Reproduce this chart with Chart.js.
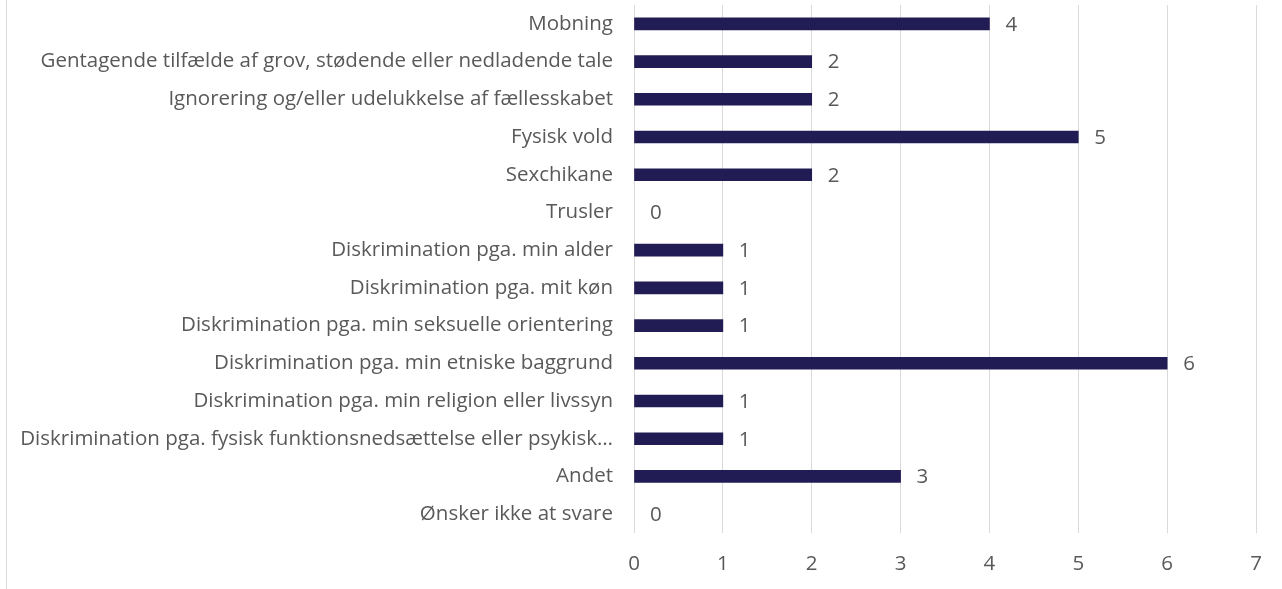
<!DOCTYPE html>
<html>
<head>
<meta charset="utf-8">
<script src="https://cdn.jsdelivr.net/npm/chart.js@4.4.1/dist/chart.umd.min.js"></script>
<style>
  html, body { margin: 0; padding: 0; background: #ffffff; }
  #wrap { position: relative; width: 1282px; height: 589px; }
  #frame { position: absolute; left: 6px; top: 0; width: 0; height: 589px; border-left: 1px solid #d9d9d9; }
  canvas { position: absolute; left: 0; top: 0; }
</style>
</head>
<body>
<div id="wrap">
  <div id="frame"></div>
  <canvas id="c" width="1282" height="589"></canvas>
</div>
<script>
const categories = [
  "Mobning",
  "Gentagende tilfælde af grov, stødende eller nedladende tale",
  "Ignorering og/eller udelukkelse af fællesskabet",
  "Fysisk vold",
  "Sexchikane",
  "Trusler",
  "Diskrimination pga. min alder",
  "Diskrimination pga. mit køn",
  "Diskrimination pga. min seksuelle orientering",
  "Diskrimination pga. min etniske baggrund",
  "Diskrimination pga. min religion eller livssyn",
  "Diskrimination pga. fysisk funktionsnedsættelse eller psykisk…",
  "Andet",
  "Ønsker ikke at svare"
];
const values = [4, 2, 2, 5, 2, 0, 1, 1, 1, 6, 1, 1, 3, 0];
const xTicks = [0, 1, 2, 3, 4, 5, 6, 7];

const FONT = "'Open Sans', 'Liberation Sans', sans-serif";
const TEXT = "#595959";
const FS = 20.5;
const BAR = '#221c55';

const valueLabels = {
  id: 'valueLabels',
  afterDatasetsDraw(chart) {
    const ctx = chart.ctx;
    const meta = chart.getDatasetMeta(0);
    ctx.save();
    ctx.font = FS + "px " + FONT;
    ctx.fillStyle = TEXT;
    ctx.textAlign = 'left';
    ctx.textBaseline = 'middle';
    meta.data.forEach((bar, i) => {
      ctx.fillText(String(values[i]), bar.x + 16, bar.y + 1);
    });
    ctx.restore();
  }
};

new Chart(document.getElementById('c'), {
  type: 'bar',
  data: {
    labels: categories,
    datasets: [{
      data: values,
      backgroundColor: (c) => (c.raw === 0 ? 'rgba(0,0,0,0)' : BAR),
      barThickness: 12,
      borderWidth: 0
    }]
  },
  options: {
    indexAxis: 'y',
    responsive: false,
    animation: false,
    layout: { padding: { top: 5, right: 26, left: 0, bottom: 0 } },
    plugins: { legend: { display: false }, tooltip: { enabled: false } },
    scales: {
      x: {
        min: 0, max: 7,
        afterBuildTicks(scale) { scale.ticks = xTicks.map(v => ({ value: v })); },
        ticks: { color: TEXT, font: { family: FONT, size: FS }, padding: 19 },
        grid: { color: '#d9d9d9', lineWidth: 1, drawTicks: false },
        border: { display: false },
        afterFit(scale) { scale.height = 56; }
      },
      y: {
        ticks: { color: TEXT, font: { family: FONT, size: FS }, padding: 21, autoSkip: false },
        grid: { display: false, drawTicks: false },
        border: { display: false },
        afterFit(scale) { scale.width = 634; scale.paddingTop = 0; scale.paddingBottom = 0; }
      }
    }
  },
  plugins: [valueLabels]
});
</script>
</body>
</html>
